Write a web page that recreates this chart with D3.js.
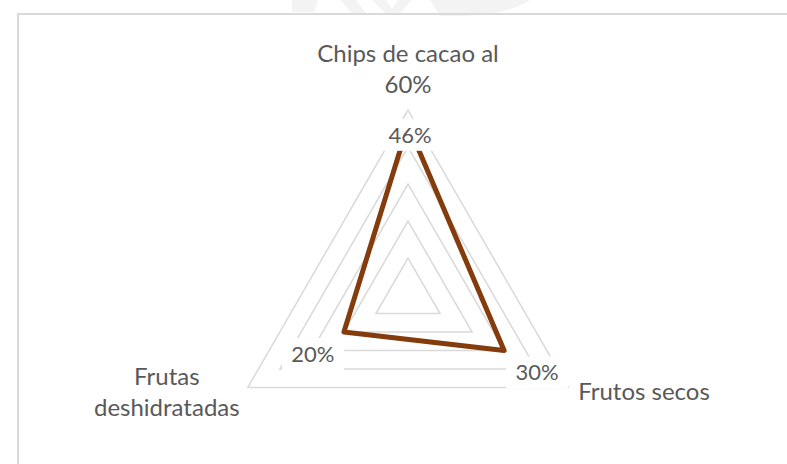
<!DOCTYPE html>
<html>
<head>
<meta charset="utf-8">
<script src="https://cdn.jsdelivr.net/npm/d3@7"></script>
<style>
  html, body { margin: 0; padding: 0; background: #fff; }
  svg { display: block; }
  text { font-family: Lato, "Open Sans", sans-serif; fill: #595959; }
</style>
</head>
<body>
<svg id="chart" width="787" height="464"></svg>
<script>
// Ingredient shares in the mix
const categories = ["Chips de cacao al 60%", "Frutos secos", "Frutas deshidratadas"];
const categoryLines = [["Chips de cacao al", "60%"], ["Frutos secos"], ["Frutas", "deshidratadas"]];
const values = [0.46, 0.30, 0.20];
const valueLabels = ["46%", "30%", "20%"];
const ringTicks = [0.1, 0.2, 0.3, 0.4, 0.5];

const W = 787, H = 464;
const cx = 408, cy = 295, R = 185;

const svg = d3.select("#chart");
svg.append("rect").attr("width", W).attr("height", H).attr("fill", "#fff");

// faint letterhead watermark above the frame
const wm = svg.append("g").attr("fill", "#f3f3f3");
wm.append("path").attr("d", "M292,0 L318,0 L314,12 L292,12 Z");
wm.append("path").attr("d", "M340,0 L356,0 L366,13 L352,13 Z");
wm.append("path").attr("d", "M372,0 L386,0 L392,9 L398,0 L412,0 L400,13 L385,13 Z");
wm.append("path").attr("d", "M430,0 L530,0 Q505,16 460,16 L440,16 Z");

// chart frame (runs off the right and bottom edges)
svg.append("rect")
  .attr("x", 18).attr("y", 14)
  .attr("width", W).attr("height", H)
  .attr("fill", "none").attr("stroke", "#d9d9d9").attr("stroke-width", 2);

const r = d3.scaleLinear().domain([0, 0.5]).range([0, R]);
const angle = d3.scalePoint().domain(d3.range(categories.length)).range([0, 2 * Math.PI * (categories.length - 1) / categories.length]);

const g = svg.append("g").attr("transform", `translate(${cx},${cy})`);

const pt = (i, v) => {
  const a = angle(i) - Math.PI / 2;
  return [r(v) * Math.cos(a), r(v) * Math.sin(a)];
};

const radial = d3.lineRadial()
  .angle((d, i) => angle(i))
  .radius(d => r(d))
  .curve(d3.curveLinearClosed);

// grid rings
g.selectAll("path.ring")
  .data(ringTicks)
  .join("path")
  .attr("class", "ring")
  .attr("d", t => radial(categories.map(() => t)))
  .attr("fill", "none")
  .attr("stroke", "#d9d9d9")
  .attr("stroke-width", 1.5);

// series
g.append("path")
  .attr("d", radial(values))
  .attr("fill", "none")
  .attr("stroke", "#843c0c")
  .attr("stroke-width", 5)
  .attr("stroke-linejoin", "round");

// value labels on white boxes
const labelOffset = [[2, 10], [33, 22], [-31, 22]];
const lab = g.selectAll("g.vlab")
  .data(values)
  .join("g")
  .attr("class", "vlab")
  .attr("transform", (d, i) => {
    const p = pt(i, d);
    return `translate(${p[0] + labelOffset[i][0]},${p[1] + labelOffset[i][1]})`;
  });
lab.append("rect")
  .attr("x", -31).attr("y", -16).attr("width", 62).attr("height", 32)
  .attr("fill", "#fff");
lab.append("text")
  .attr("text-anchor", "middle")
  .attr("dy", "0.35em")
  .attr("font-size", 22)
  .text((d, i) => valueLabels[i]);

// category labels at the outer ring
const catOffset = [[0, -48], [10, 12.5], [-81, -2.5]];
const catAnchor = ["middle", "start", "middle"];
const lineGap = 30.5;
g.selectAll("text.cat")
  .data(categoryLines)
  .join("text")
  .attr("class", "cat")
  .attr("font-size", 24)
  .attr("text-anchor", (d, i) => catAnchor[i])
  .attr("x", (d, i) => pt(i, 0.5)[0] + catOffset[i][0])
  .attr("y", (d, i) => pt(i, 0.5)[1] + catOffset[i][1])
  .each(function (lines) {
    const t = d3.select(this);
    const x = t.attr("x");
    lines.forEach((s, k) => {
      t.append("tspan").attr("x", x).attr("dy", k === 0 ? 0 : lineGap).text(s);
    });
  });
</script>
</body>
</html>
